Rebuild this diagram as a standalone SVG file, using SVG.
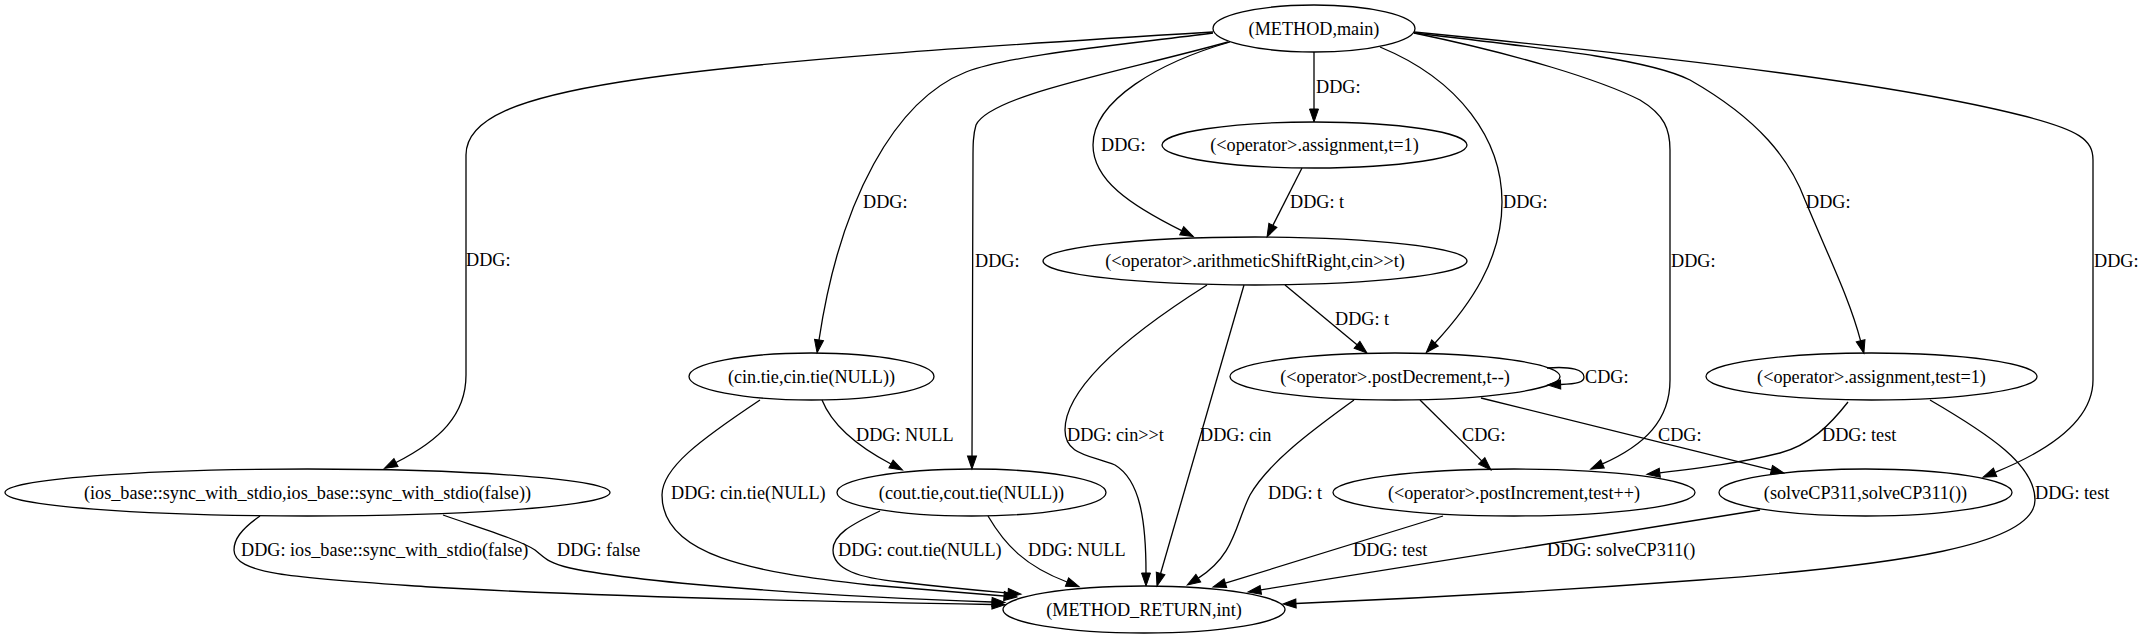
<svg xmlns="http://www.w3.org/2000/svg" width="2148" height="639" viewBox="0 0 2148 639">
<style>
text{font-family:"Liberation Serif","Times New Roman",serif;font-size:18.2px;fill:#000}
.n ellipse{fill:none;stroke:#000;stroke-width:1.3}
.n text{text-anchor:middle}
#edges path{fill:none;stroke:#000;stroke-width:1.3;marker-end:url(#ah)}
#edges text{text-anchor:start}
</style>
<defs>
<marker id="ah" markerUnits="userSpaceOnUse" markerWidth="13" markerHeight="9" viewBox="0 0 13 9" refX="0" refY="4.5" orient="auto" style="overflow:visible">
<path d="M0,0 L13,4.5 L0,9 z" fill="#000" stroke="#000" stroke-width="1"/>
</marker>
</defs>
<rect width="2148" height="639" fill="#fff"/>
<g id="edges">
<path d="M1213,32 C1000,45 760,60 620,82 C520,98 466,118 466,155 L466,375 C466,415 440,440 396,462.5"/>
<text x="466" y="266">DDG:</text>
<path d="M1213,33 C1120,45 1010,55 966,72 C895,100 840,200 819,340"/>
<text x="863" y="208">DDG:</text>
<path d="M1228,42 C1120,72 990,95 976,125 C973,135 973,145 973,160 L972,456"/>
<text x="975" y="267">DDG:</text>
<path d="M1230,42 C1160,62 1093,100 1093,145 C1093,180 1130,205 1181.7,230.7"/>
<text x="1101" y="151">DDG:</text>
<path d="M1302,168 L1272.9,225.4"/>
<text x="1290" y="208">DDG: t</text>
<path d="M1314,52 L1314,109"/>
<text x="1316" y="93">DDG:</text>
<path d="M1380,47 C1460,80 1502,140 1502,202 C1502,260 1470,305 1435,343"/>
<text x="1503" y="208">DDG:</text>
<path d="M1285,285 L1357,344.7"/>
<text x="1335" y="325">DDG: t</text>
<path d="M1547,368 C1572,366 1584,370 1584,377 C1584,382 1578,384 1560.6,384.5"/>
<text x="1585" y="383">CDG:</text>
<path d="M1420,400 L1481.7,460.9"/>
<text x="1462" y="441">CDG:</text>
<path d="M1481,398 L1771.4,469.9"/>
<text x="1658" y="441">CDG:</text>
<path d="M1414,33 C1520,55 1600,80 1640,100 C1665,115 1670,130 1670,150 L1670,380 C1670,420 1645,445 1602.5,463.9"/>
<text x="1671" y="267">DDG:</text>
<path d="M1414,33 C1560,50 1650,60 1690,80 C1760,120 1790,160 1805,200 C1830,260 1850,300 1860.6,340.8"/>
<text x="1806" y="208">DDG:</text>
<path d="M1414,32 C1700,60 1900,85 2020,115 C2080,130 2093,140 2093,160 L2093,380 C2093,420 2050,450 1995.1,472.3"/>
<text x="2094" y="267">DDG:</text>
<path d="M822,400 C832,425 855,445 891,464"/>
<text x="856" y="441">DDG: NULL</text>
<path d="M760,400 C700,440 662,468 662,495 C662,555 750,572 870,585 C930,590 975,594 1004,596"/>
<text x="671" y="499">DDG: cin.tie(NULL)</text>
<path d="M880,511 C850,525 833,535 833,550 C833,570 860,578 900,582 C950,588 985,591 1008,593"/>
<text x="838" y="556">DDG: cout.tie(NULL)</text>
<path d="M988,516 C1005,545 1025,566 1067,582"/>
<text x="1028" y="556">DDG: NULL</text>
<path d="M1207,285 C1120,340 1065,390 1065,430 C1065,455 1090,455 1115,465 C1140,480 1146,520 1146,573"/>
<text x="1067" y="441">DDG: cin&gt;&gt;t</text>
<path d="M1244,285 L1160.6,573.5"/>
<text x="1200" y="441">DDG: cin</text>
<path d="M1354,400 C1320,425 1270,460 1250,495 C1235,525 1235,555 1198.3,578.1"/>
<text x="1268" y="499">DDG: t</text>
<path d="M1443,516 L1225.4,583.2"/>
<text x="1353" y="556">DDG: test</text>
<path d="M1760,510 L1260.8,589.9"/>
<text x="1547" y="556">DDG: solveCP311()</text>
<path d="M1930,400 C1990,435 2035,465 2035,500 C2035,545 1900,565 1700,580 C1500,595 1380,600 1296,603.5"/>
<text x="2035" y="499">DDG: test</text>
<path d="M1848,402 C1830,425 1810,445 1780,453 C1740,463 1700,468 1659.8,472.8"/>
<text x="1822" y="441">DDG: test</text>
<path d="M260,516 C240,530 234,540 234,550 C234,575 300,578 430,587 C600,597 850,602 992,604.5"/>
<text x="241" y="556">DDG: ios_base::sync_with_stdio(false)</text>
<path d="M443,515 C480,528 520,540 535,550 C545,558 548,563 570,568 C650,585 850,597 992,602"/>
<text x="557" y="556">DDG: false</text>
</g>
<g id="n_main" class="n"><ellipse cx="1314" cy="28.5" rx="101" ry="23.5"/><text x="1314" y="34.5">(METHOD,main)</text></g>
<g id="n_assign_t" class="n"><ellipse cx="1314.5" cy="145" rx="152.5" ry="23"/><text x="1314.5" y="151">(&lt;operator&gt;.assignment,t=1)</text></g>
<g id="n_arith" class="n"><ellipse cx="1255" cy="261" rx="212" ry="24"/><text x="1255" y="267">(&lt;operator&gt;.arithmeticShiftRight,cin&gt;&gt;t)</text></g>
<g id="n_cin_tie" class="n"><ellipse cx="811.5" cy="376.5" rx="122.5" ry="23.5"/><text x="811.5" y="382.5">(cin.tie,cin.tie(NULL))</text></g>
<g id="n_postdec" class="n"><ellipse cx="1395" cy="376.5" rx="165" ry="23.5"/><text x="1395" y="382.5">(&lt;operator&gt;.postDecrement,t--)</text></g>
<g id="n_assign_test" class="n"><ellipse cx="1871.5" cy="376.5" rx="165.5" ry="23.5"/><text x="1871.5" y="382.5">(&lt;operator&gt;.assignment,test=1)</text></g>
<g id="n_ios" class="n"><ellipse cx="307.5" cy="492.5" rx="302.5" ry="23.5"/><text x="307.5" y="498.5">(ios_base::sync_with_stdio,ios_base::sync_with_stdio(false))</text></g>
<g id="n_cout_tie" class="n"><ellipse cx="971.5" cy="492.5" rx="134.5" ry="23.5"/><text x="971.5" y="498.5">(cout.tie,cout.tie(NULL))</text></g>
<g id="n_postinc" class="n"><ellipse cx="1514" cy="492.5" rx="181" ry="23.5"/><text x="1514" y="498.5">(&lt;operator&gt;.postIncrement,test++)</text></g>
<g id="n_solve" class="n"><ellipse cx="1865.5" cy="492.5" rx="146.5" ry="23.5"/><text x="1865.5" y="498.5">(solveCP311,solveCP311())</text></g>
<g id="n_ret" class="n"><ellipse cx="1144" cy="609.5" rx="141" ry="23.5"/><text x="1144" y="615.5">(METHOD_RETURN,int)</text></g>
</svg>
